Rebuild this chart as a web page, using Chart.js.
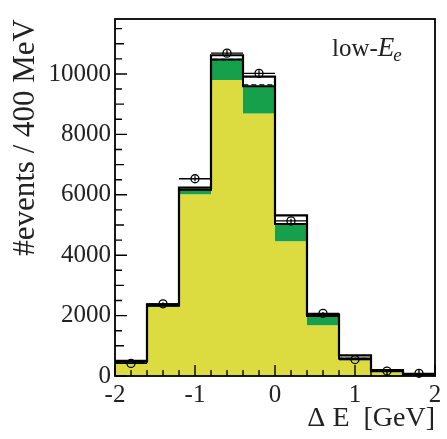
<!DOCTYPE html>
<html>
<head>
<meta charset="utf-8">
<script src="https://cdn.jsdelivr.net/npm/chart.js@4.4.0/dist/chart.umd.min.js"></script>
<style>
  html, body { margin: 0; padding: 0; background: #fff; }
  #wrap { width: 447px; height: 439px; }
</style>
</head>
<body>
<div id="wrap"><canvas id="deltaE"></canvas></div>
<script>
// Delta E bins, 400 MeV wide
var binEdges = [-2.0, -1.6, -1.2, -0.8, -0.4, 0.0, 0.4, 0.8, 1.2, 1.6, 2.0];

// stacked MC components (events / bin)
var mcYellow = [440, 2290, 6020, 9800, 8690, 4460, 1680, 520, 130, 40];
var mcGreen  = [30, 40, 150, 680, 900, 570, 310, 60, 30, 10];
var mcWhite  = [30, 40, 70, 140, 320, 290, 50, 100, 35, 15];

// dashed alternative on top of the green
var mcDashed = [470, 2330, 6170, 10480, 9640, 5030, 1990, 580, 160, 50];

// measured events with errors
var dataCounts = [415, 2390, 6530, 10690, 10020, 5135, 2075, 545, 163, 90];
var dataErrors = [20, 49, 81, 103, 100, 72, 46, 23, 13, 9];

var yTickLabels = [0, 2000, 4000, 6000, 8000, 10000];
var xTickLabels = [-2, -1, 0, 1, 2];

var yMax = 11820;
var yMinorStep = 500;

function addUp(a, b) {
    return a.map(function (v, i) { return v + b[i]; });
}

// histogram outline: one point per left edge, last value repeated at the right edge
function stepPoints(vals) {
    var pts = vals.map(function (v, i) { return { x: binEdges[i], y: v }; });
    pts.push({ x: binEdges[vals.length], y: vals[vals.length - 1] });
    return pts;
}

var greenTop = addUp(mcYellow, mcGreen);
var totalTop = addUp(greenTop, mcWhite);

var dataPoints = dataCounts.map(function (v, i) {
    return { x: (binEdges[i] + binEdges[i + 1]) / 2, y: v };
});

var serif = "'Liberation Serif', 'Times New Roman', serif";

// error bars, inner tick marks, frame and the label
var decorations = {
    id: 'decorations',
    afterDatasetsDraw: function (chart) {
        var ctx = chart.ctx;
        var xs = chart.scales.x, ys = chart.scales.y;
        ctx.save();
        ctx.strokeStyle = '#000';
        ctx.lineWidth = 1.3;
        dataCounts.forEach(function (v, i) {
            var x0 = xs.getPixelForValue(binEdges[i]);
            var x1 = xs.getPixelForValue(binEdges[i + 1]);
            var xc = xs.getPixelForValue(dataPoints[i].x);
            var y = ys.getPixelForValue(v);
            ctx.beginPath();
            ctx.moveTo(x0, y); ctx.lineTo(x1, y);
            ctx.moveTo(xc, ys.getPixelForValue(v - dataErrors[i]));
            ctx.lineTo(xc, ys.getPixelForValue(v + dataErrors[i]));
            ctx.stroke();
        });
        ctx.restore();
    },
    afterDraw: function (chart) {
        var ctx = chart.ctx;
        var area = chart.chartArea;
        var xs = chart.scales.x, ys = chart.scales.y;
        ctx.save();
        ctx.strokeStyle = '#000';
        ctx.lineWidth = 1.4;
        ctx.beginPath();
        ys.ticks.forEach(function (t) {
            var y = ys.getPixelForValue(t.value);
            var len = t.value % 2000 === 0 ? 12 : (t.value % 1000 === 0 ? 9 : 7);
            ctx.moveTo(area.left, y); ctx.lineTo(area.left + len, y);
        });
        xs.ticks.forEach(function (t) {
            var x = xs.getPixelForValue(t.value);
            var len = Math.abs(t.value - Math.round(t.value)) < 1e-6 ? 11 : 6;
            ctx.moveTo(x, area.bottom); ctx.lineTo(x, area.bottom - len);
        });
        ctx.stroke();

        ctx.lineWidth = 1.8;
        ctx.strokeRect(area.left, area.top, area.right - area.left, area.bottom - area.top);

        // low-E_e
        ctx.fillStyle = '#222';
        ctx.textBaseline = 'alphabetic';
        ctx.font = '25px ' + serif;
        var x = area.right - 103, y = area.top + 37;
        ctx.fillText('low-', x, y);
        x += ctx.measureText('low-').width;
        ctx.font = 'italic 27px ' + serif;
        ctx.fillText('E', x, y);
        x += ctx.measureText('E').width;
        ctx.font = 'italic 19px ' + serif;
        ctx.fillText('e', x - 1, y + 5);
        ctx.restore();
    }
};

var config = {
    type: 'line',
    data: {
        datasets: [{
            data: stepPoints(mcYellow),
            stepped: 'before',
            borderColor: 'rgba(0,0,0,0)',
            borderWidth: 0,
            backgroundColor: '#dcdc40',
            fill: 'origin',
            pointRadius: 0,
            order: 5
        }, {
            data: stepPoints(greenTop),
            stepped: 'before',
            borderColor: '#000',
            borderWidth: 2,
            backgroundColor: '#16a04c',
            fill: 0,
            pointRadius: 0,
            order: 4
        }, {
            data: stepPoints(mcDashed),
            stepped: 'before',
            borderColor: '#000',
            borderWidth: 1.4,
            borderDash: [5, 3],
            fill: false,
            pointRadius: 0,
            order: 3
        }, {
            data: stepPoints(totalTop),
            stepped: 'before',
            borderColor: '#000',
            borderWidth: 2.2,
            fill: false,
            pointRadius: 0,
            order: 2
        }, {
            data: dataPoints,
            showLine: false,
            pointStyle: 'circle',
            pointRadius: 4,
            pointBorderWidth: 1.3,
            pointBorderColor: '#000',
            pointBackgroundColor: 'rgba(0,0,0,0)',
            clip: false,
            order: 1
        }]
    },
    options: {
        responsive: true,
        maintainAspectRatio: false,
        animation: false,
        devicePixelRatio: 1,
        layout: { padding: { top: 13, right: 12, left: 0, bottom: 0 } },
        plugins: {
            legend: { display: false },
            tooltip: { enabled: false }
        },
        scales: {
            x: {
                type: 'linear',
                min: -2,
                max: 2,
                grid: { display: false, drawTicks: false },
                border: { display: false },
                ticks: {
                    stepSize: 0.2,
                    autoSkip: false,
                    maxRotation: 0,
                    includeBounds: false,
                    padding: 4,
                    color: '#222',
                    font: { family: serif, size: 25 },
                    callback: function (v) {
                        var hit = xTickLabels.filter(function (t) { return Math.abs(t - v) < 1e-6; });
                        return hit.length ? String(hit[0]) : '';
                    }
                },
                title: {
                    display: true,
                    text: '\u0394 E  [GeV]',
                    align: 'end',
                    color: '#222',
                    font: { family: serif, size: 28 },
                    padding: { top: 0, bottom: 4 }
                },
                afterFit: function (scale) { scale.height = 63; }
            },
            y: {
                min: 0,
                max: yMax,
                grid: { display: false, drawTicks: false },
                border: { display: false },
                ticks: {
                    autoSkip: false,
                    padding: 4,
                    color: '#222',
                    font: { family: serif, size: 25 },
                    callback: function (v) {
                        return yTickLabels.indexOf(v) >= 0 ? String(v) : '';
                    }
                },
                // minor ticks every 500 events, labels only on the 2000s
                afterBuildTicks: function (scale) {
                    var ticks = [];
                    for (var v = 0; v <= yMax; v += yMinorStep) ticks.push({ value: v });
                    scale.ticks = ticks;
                },
                title: {
                    display: true,
                    text: '#events / 400 MeV',
                    align: 'end',
                    color: '#222',
                    font: { family: serif, size: 31 },
                    padding: { top: 7, bottom: 0 }
                },
                afterFit: function (scale) { scale.width = 115; }
            }
        }
    },
    plugins: [decorations]
};

window.deltaEChart = new Chart(document.getElementById('deltaE').getContext('2d'), config);
</script>
</body>
</html>
